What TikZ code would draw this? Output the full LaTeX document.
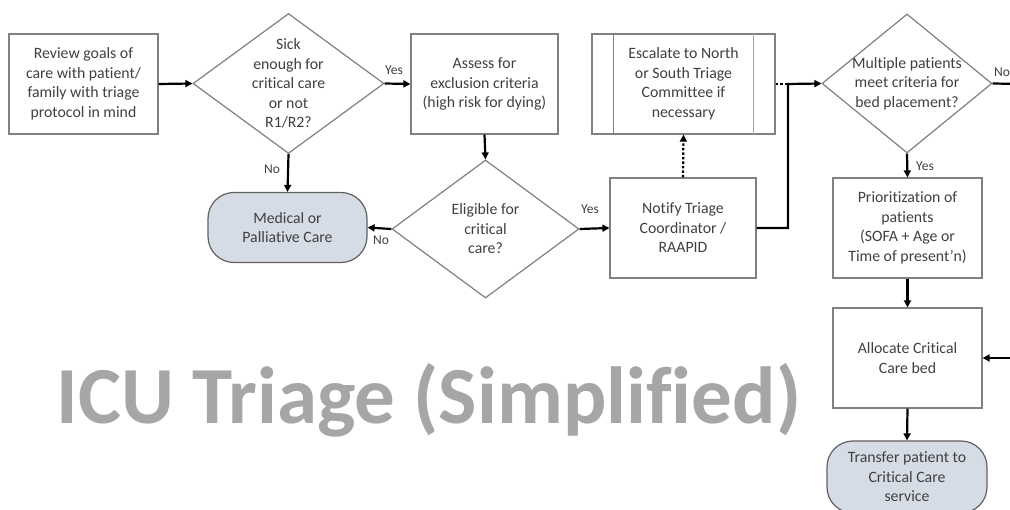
\documentclass[tikz,border=0pt]{standalone}
\usepackage{fontspec}
\setmainfont{Carlito}[Ligatures={TeX,NoCommon}]
\usetikzlibrary{shapes.geometric,arrows.meta}
\definecolor{txtc}{HTML}{404040}
\definecolor{edgec}{HTML}{808080}
\definecolor{termedge}{HTML}{606060}
\definecolor{termc}{HTML}{D6DCE5}
\definecolor{titlec}{HTML}{A6A6A6}
\begin{document}
\begin{tikzpicture}[x=1pt,y=-1pt,
  bodyfont/.style={font=\fontsize{15.8}{19.5}\selectfont, text=txtc, align=center},
  box/.style={draw=edgec, line width=1.2pt, rectangle, inner sep=0pt, bodyfont},
  term/.style={draw=termedge, line width=1.2pt, rectangle, rounded corners=26pt, fill=termc, inner sep=0pt, bodyfont},
  dia/.style={draw=edgec, line width=1.2pt, diamond, inner sep=0pt},
  dtext/.style={bodyfont, inner sep=0pt},
  lbl/.style={font=\fontsize{13.5}{15}\selectfont, text=txtc, inner sep=0pt},
  arr/.style={line width=2.2pt, -{Triangle[length=7pt,width=7pt]}},
  plain/.style={line width=2.2pt},
  dots/.style={line width=2.2pt, dash pattern=on 2.5pt off 2pt}
]
\useasboundingbox (0,0) rectangle (1010,510);
\fill[white] (0,0) rectangle (1010,510);
\clip (0,0) rectangle (1010,510);

% title
\node[font=\bfseries\fontsize{81}{96}\selectfont, text=titlec, anchor=base, inner sep=0pt] (title) at (429,424) {ICU Triage (Simplified)};

% nodes
\node[box, minimum width=149, minimum height=100] (review) at (83.5,84) {Review goals of\\care with patient/\\family with triage\\protocol in mind};
\node[dia, minimum width=191, minimum height=140] (sick) at (288.5,83.5) {};
\node[dtext] (sickt) at (sick) {Sick\\enough for\\critical care\\or not\\R1/R2?};
\node[box, minimum width=147, minimum height=100] (assess) at (484.5,84) {Assess for\\exclusion criteria\\(high risk for dying)};
\node[box, minimum width=183, minimum height=100] (esc) at (683.5,84) {Escalate to North\\or South Triage\\Committee if\\necessary};
\draw[draw=edgec, line width=1.2pt] ([xshift=22pt]esc.north west) -- ([xshift=22pt]esc.south west);
\draw[draw=edgec!70, line width=1.2pt] ([xshift=-22pt]esc.north east) -- ([xshift=-22pt]esc.south east);
\node[dia, minimum width=170, minimum height=139] (multi) at (907,83.5) {};
\node[dtext] (multit) at (multi) {Multiple patients\\meet criteria for\\bed placement?};

\node[term, minimum width=159, minimum height=70] (medical) at (287.5,227.5) {Medical or\\Palliative Care};
\node[dia, minimum width=187, minimum height=138] (elig) at (485.5,229) {};
\node[dtext] (eligt) at (elig) {Eligible for\\critical\\care?};
\node[box, minimum width=146, minimum height=100] (notify) at (683,228) {Notify Triage\\Coordinator /\\RAAPID};
\node[box, minimum width=149, minimum height=100] (prio) at (907.5,228) {Prioritization of\\patients\\(SOFA + Age or\\Time of present'n)};
\node[box, minimum width=149, minimum height=100] (alloc) at (907.5,358) {Allocate Critical\\Care bed};
\node[term, minimum width=160, minimum height=72] (transfer) at (907,477) {Transfer patient to\\Critical Care\\service};

% connector helper points
\coordinate (jn) at (788,84);
\coordinate (offr) at (1020,84);
\coordinate (offa) at (1020,358);

% connectors
\draw[arr] (review.east) -- (sick.west);
\draw[arr] (sick.east) -- (assess.west);
\draw[arr] (sick.south) -- (medical.north);
\draw[arr] (assess.south) -- (elig.north);
\draw[arr] (elig.west) -- (medical.east);
\draw[arr] (elig.east) -- (notify.west);
\draw[dots, -{Triangle[length=7pt,width=7pt]}] (notify.north) -- (esc.south);
\draw[dots] (esc.east) -- (jn);
\draw[arr] (notify.east) -| (jn) -- (multi.west);
\draw[arr] (multi.south) -- (prio.north);
\draw[plain] (multi.east) -- (offr);
\draw[arr] (prio.south) -- (alloc.north);
\draw[arr] (offa) -- (alloc.east);
\draw[arr] (alloc.south) -- (transfer.north);

% labels
\node[lbl] (lyes1) at (394,70) {Yes};
\node[lbl] (lno1) at (272,169) {No};
\node[lbl] (lno2) at (381,240) {No};
\node[lbl] (lyes2) at (590,209) {Yes};
\node[lbl] (lyes3) at (925,166) {Yes};
\node[lbl, anchor=west] (lno3) at (994,72) {No};
\end{tikzpicture}
\end{document}
